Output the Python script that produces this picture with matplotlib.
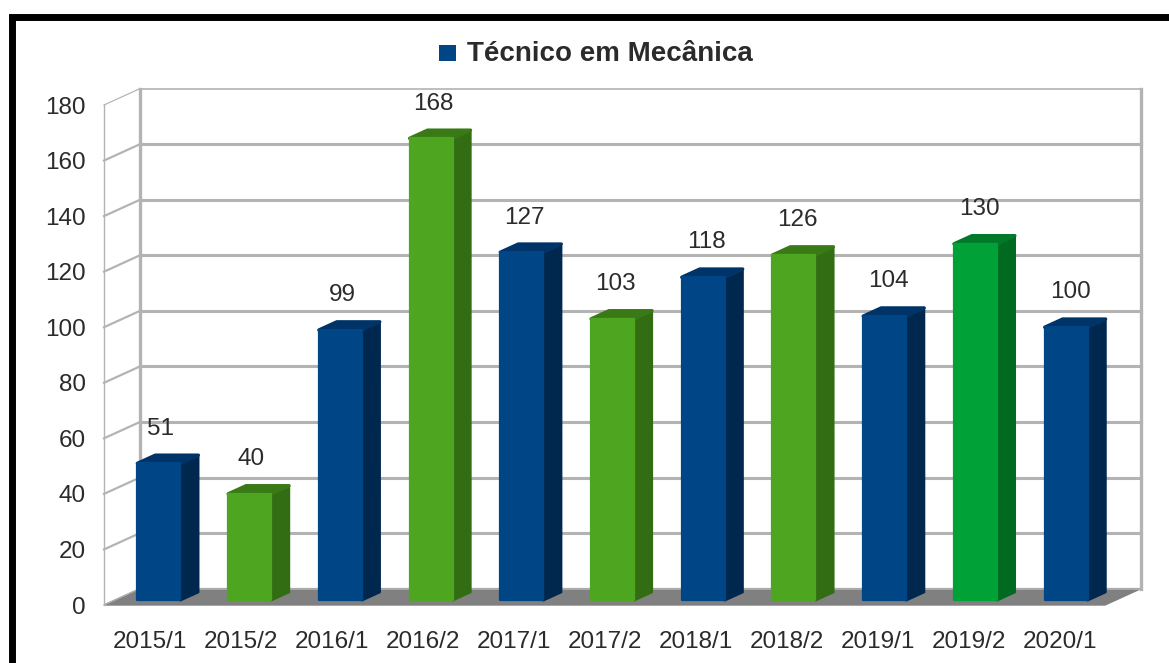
import matplotlib
matplotlib.use("Agg")
import matplotlib.pyplot as plt
from matplotlib.patches import Polygon, Rectangle

categories = ["2015/1", "2015/2", "2016/1", "2016/2", "2017/1", "2017/2",
              "2018/1", "2018/2", "2019/1", "2019/2", "2020/1"]
values = [51, 40, 99, 168, 127, 103, 118, 126, 104, 130, 100]
kinds = ["blue", "green", "blue", "green", "blue", "green",
         "blue", "green", "blue", "bright", "blue"]
yticks = [0, 20, 40, 60, 80, 100, 120, 140, 160, 180]
title = "Técnico em Mecânica"

FACE = {"blue": "#004586", "green": "#4ea520", "bright": "#00a136"}
SIDE = {"blue": "#00284f", "green": "#336d13", "bright": "#006b20"}
TOP = {"blue": "#003468", "green": "#3a7a16", "bright": "#007a28"}
GRID = "#b3b3b3"
TEXT = "#2b2b2b"

W, H = 1169, 663
fig = plt.figure(figsize=(W / 100, H / 100), dpi=100, facecolor="white")
plt.rcParams["font.family"] = ["Liberation Sans", "DejaVu Sans"]

ax = fig.add_axes([104 / W, (H - 605) / H, 1001 / W, 500 / H])
ax.set_xlim(-0.5, 10.5)
ax.set_ylim(0, 180)
ax.set_facecolor("none")
for s in ax.spines.values():
    s.set_visible(False)

DX = 36 / 91   # depth shift, category units
DY = 5.9       # depth shift, value units
X0, X1 = -0.5, 10.5


def proj(x, y, d):
    return (x + d * DX, y + d * DY)


# floor and walls
ax.add_patch(Polygon([proj(X0, 0, 0), proj(X1, 0, 0), proj(X1, 0, 1), proj(X0, 0, 1)],
                     closed=True, fc="#808080", ec="#808080", clip_on=False, zorder=1))
for t in yticks:
    w = 1.2 if t in (0, 180) else 2.2
    ax.plot([proj(X0, t, 0)[0], proj(X0, t, 1)[0]], [proj(X0, t, 0)[1], proj(X0, t, 1)[1]],
            color=GRID, lw=w * 0.72, clip_on=False, zorder=2)
    ax.plot([proj(X0, t, 1)[0], proj(X1, t, 1)[0]], [proj(X0, t, 1)[1], proj(X1, t, 1)[1]],
            color=GRID, lw=w, clip_on=False, zorder=2)
ax.plot([X0, X0], [0, 180], color=GRID, lw=1.0, clip_on=False, zorder=2)
ax.plot([proj(X0, 0, 1)[0]] * 2, [proj(X0, 0, 1)[1], proj(X0, 180, 1)[1]],
        color=GRID, lw=2.4, clip_on=False, zorder=2)
ax.plot([proj(X1, 0, 1)[0]] * 2, [proj(X1, 0, 1)[1], proj(X1, 180, 1)[1]],
        color=GRID, lw=2.4, clip_on=False, zorder=2)

# bars: the front face rises from a floor inset to the value on the axis scale
HALF = 21.5 / 91
D0, D1 = 0.26, 0.76
for i, (v, k) in enumerate(zip(values, kinds)):
    x = i * 0.997 + D0 * DX
    base = 0.28 * DY
    l, r = x - HALF, x + HALF
    sh_x, sh_y = (D1 - D0) * DX, (D1 - D0) * DY
    kw = dict(closed=True, clip_on=False, zorder=4, lw=1.6, joinstyle="round")
    ax.add_patch(Polygon([(r, base), (r + sh_x, base + sh_y), (r + sh_x, v + sh_y), (r, v)],
                         fc=SIDE[k], ec=SIDE[k], **kw))
    ax.add_patch(Polygon([(l, v), (r, v), (r + sh_x, v + sh_y), (l + sh_x, v + sh_y)],
                         fc=TOP[k], ec=TOP[k], **{**kw, "lw": 2.4}))
    ax.add_patch(Polygon([(l, base), (r, base), (r, v), (l, v)],
                         fc=FACE[k], ec=FACE[k], **kw))
    ax.annotate(str(v), (i + D0 * DX, v), xytext=(1, 25), textcoords="offset points",
                ha="center", va="center", fontsize=17.5, color=TEXT, zorder=5,
                annotation_clip=False)

ax.set_xticks(range(len(categories)), categories)
ax.set_yticks(yticks)
ax.tick_params(axis="both", length=0, labelsize=17.5, labelcolor=TEXT)
ax.tick_params(axis="x", pad=18.5)
ax.tick_params(axis="y", pad=13)

# legend line + outer frame, figure coordinates
fig.add_artist(Rectangle((439 / W, 1 - 61 / H), 17 / W, 16 / H, transform=fig.transFigure,
                         fc=FACE["blue"], ec="none"))
fig.text(467 / W, 1 - 54 / H, title, fontsize=20, fontweight="bold", color=TEXT,
         ha="left", va="center")
fig.add_artist(Rectangle((11.5 / W, -0.01), 1.1, 1 - 17 / H + 0.01, transform=fig.transFigure,
                         fc="none", ec="black", lw=5, zorder=10))

fig.savefig("out.png", dpi=100)
